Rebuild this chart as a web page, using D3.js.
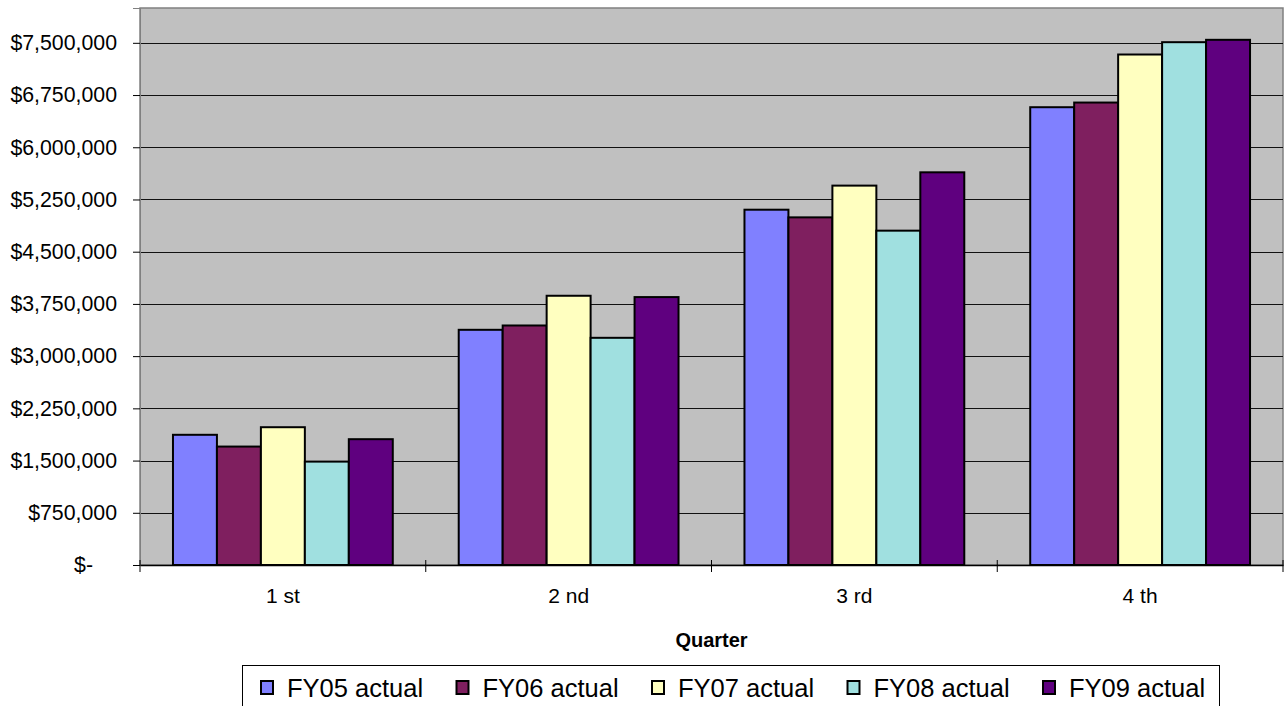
<!DOCTYPE html>
<html>
<head>
<meta charset="utf-8">
<script src="https://cdn.jsdelivr.net/npm/d3@7"></script>
<style>
  html, body { margin: 0; padding: 0; background: #ffffff; }
  svg { display: block; font-family: "Liberation Sans", Arial, sans-serif; }
</style>
</head>
<body>
<svg id="chart" width="1286" height="706"></svg>
<script>
const quarters = ["1 st", "2 nd", "3 rd", "4 th"];
const seriesNames = ["FY05 actual", "FY06 actual", "FY07 actual", "FY08 actual", "FY09 actual"];
const seriesColors = ["#8080FF", "#7F1F5F", "#FFFFC0", "#A0E0E0", "#5F007F"];
const fy05 = [1870000, 3378000, 5103000, 6575000];
const fy06 = [1701000, 3440000, 4993000, 6642000];
const fy07 = [1979000, 3867000, 5449000, 7332000];
const fy08 = [1485000, 3263000, 4802000, 7509000];
const fy09 = [1807000, 3848000, 5640000, 7543000];
const seriesValues = [fy05, fy06, fy07, fy08, fy09];
const yTicks = [0, 750000, 1500000, 2250000, 3000000, 3750000, 4500000, 5250000, 6000000, 6750000, 7500000];
const yMax = 8000000;
const xTitle = "Quarter";

const svg = d3.select("#chart");
const plot = { left: 140, right: 1283, top: 8, bottom: 565 };

const x0 = d3.scaleBand().domain(quarters).range([plot.left, plot.right]).padding(0);
const x1 = d3.scaleBand().domain(seriesNames).range([0, x0.bandwidth()]).paddingInner(0).paddingOuter(0.75);
const y = d3.scaleLinear().domain([0, yMax]).range([plot.bottom, plot.top]);

// plot background
svg.append("rect")
  .attr("x", plot.left).attr("y", plot.top)
  .attr("width", plot.right - plot.left).attr("height", plot.bottom - plot.top)
  .attr("fill", "#C0C0C0").attr("stroke", "#808080").attr("stroke-width", 1.5);

// gridlines
svg.append("g").selectAll("line").data(yTicks.filter(d => d > 0)).join("line")
  .attr("x1", plot.left).attr("x2", plot.right)
  .attr("y1", d => Math.round(y(d)) + 0.5).attr("y2", d => Math.round(y(d)) + 0.5)
  .attr("stroke", "#111").attr("stroke-width", 1);

// bars
const groups = svg.append("g").selectAll("g").data(quarters).join("g")
  .attr("transform", q => `translate(${x0(q)},0)`);
groups.selectAll("rect").data((q, qi) => seriesNames.map((s, si) => ({ s, si, v: seriesValues[si][qi] })))
  .join("rect")
  .attr("x", d => x1(d.s))
  .attr("width", x1.bandwidth())
  .attr("y", d => y(d.v))
  .attr("height", d => y(0) - y(d.v))
  .attr("fill", d => seriesColors[d.si])
  .attr("stroke", "#000").attr("stroke-width", 2);

// y axis
const fmt = d => d === 0 ? "$-" : "$" + d3.format(",")(d);
const yAxis = d3.axisLeft(y).tickValues(yTicks).tickFormat(fmt).tickSize(7).tickPadding(16);
const yg = svg.append("g").attr("transform", `translate(${plot.left},0)`).call(yAxis);
yg.select(".domain").attr("stroke", "#808080");
yg.selectAll(".tick line").attr("stroke", "#000");
yg.selectAll(".tick text").attr("font-size", 21.3).attr("fill", "#000")
  .attr("font-family", "'Liberation Sans', Arial, sans-serif")
  .attr("dx", d => d === 0 ? -24 : 0);

// x axis
const xAxis = d3.axisBottom(x0).tickSize(0).tickPadding(23);
const xg = svg.append("g").attr("transform", `translate(0,${plot.bottom})`).call(xAxis);
xg.select(".domain").attr("stroke", "#000").attr("stroke-width", 1.5);
xg.selectAll(".tick text").attr("font-size", 21).attr("fill", "#000")
  .attr("font-family", "'Liberation Sans', Arial, sans-serif");
// category boundary ticks
const bounds = quarters.map(q => x0(q)).concat([plot.right]);
svg.append("g").selectAll("line").data(bounds).join("line")
  .attr("x1", d => d).attr("x2", d => d)
  .attr("y1", plot.bottom - 5).attr("y2", plot.bottom + 7)
  .attr("stroke", "#000").attr("stroke-width", 1);

// x title
svg.append("text").attr("x", (plot.left + plot.right) / 2).attr("y", 647)
  .attr("text-anchor", "middle").attr("font-size", 20).attr("font-weight", "bold")
  .text(xTitle);

// legend
const lg = svg.append("g");
lg.append("rect").attr("x", 242.5).attr("y", 665.5).attr("width", 977).attr("height", 60)
  .attr("fill", "#fff").attr("stroke", "#000").attr("stroke-width", 1);
const legendX = d3.scalePoint().domain(seriesNames).range([261, 1043]);
const items = lg.selectAll("g.item").data(seriesNames).join("g").attr("class", "item")
  .attr("transform", s => `translate(${legendX(s)},0)`);
items.append("rect").attr("x", 0).attr("y", 681).attr("width", 12).attr("height", 13)
  .attr("fill", (s, i) => seriesColors[i]).attr("stroke", "#000").attr("stroke-width", 2);
items.append("text").attr("x", 26).attr("y", 697).attr("font-size", 25.5).text(s => s);
</script>
</body>
</html>
